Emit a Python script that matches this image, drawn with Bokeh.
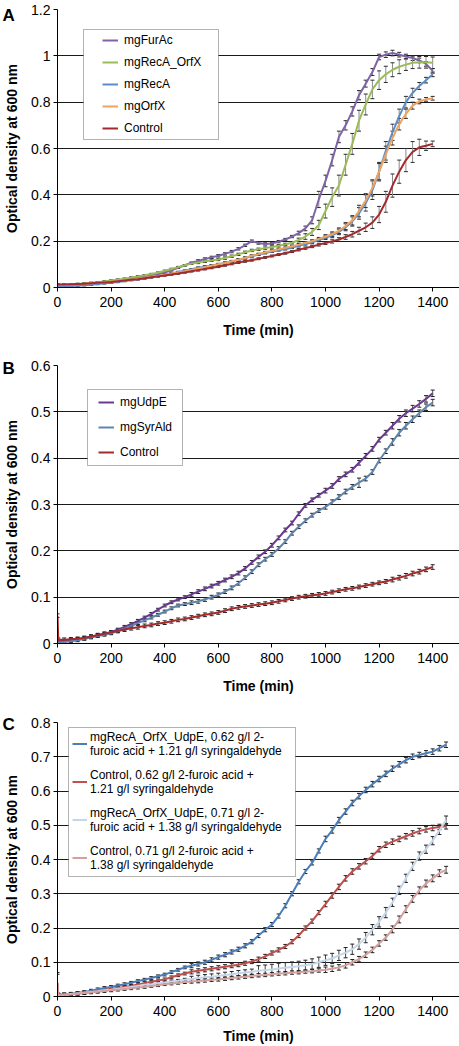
from bokeh.plotting import figure
from bokeh.models import (ColumnDataSource, Range1d, FixedTicker, Legend, LegendItem,
                          BoxAnnotation, NumeralTickFormatter, Title)
from bokeh.layouts import column
from bokeh.embed import file_html
from bokeh.resources import INLINE

FONT = "Liberation Sans"

# ---------------- shared axis data ----------------
x_ticks = [0, 200, 400, 600, 800, 1000, 1200, 1400]

# ---------------- Panel A ----------------
time_a = list(range(0, 1401, 25))
a_yticks = [0, 0.2, 0.4, 0.6, 0.8, 1, 1.2]
a_ylabels = ["0", "0.2", "0.4", "0.6", "0.8", "1", "1.2"]
a_names = ["mgFurAc", "mgRecA_OrfX", "mgRecA", "mgOrfX", "Control"]

a_furac = [0.010, 0.010, 0.011, 0.012, 0.014, 0.016, 0.019, 0.022, 0.025, 0.029,
           0.033, 0.038, 0.043, 0.048, 0.053, 0.058, 0.065, 0.074, 0.085, 0.096,
           0.107, 0.115, 0.123, 0.130, 0.137, 0.145, 0.155, 0.167, 0.182, 0.200,
           0.192, 0.188, 0.190, 0.198, 0.207, 0.220, 0.235, 0.255, 0.290, 0.380,
           0.460, 0.550, 0.650, 0.700, 0.760, 0.830, 0.880, 0.930, 0.995, 1.005,
           1.012, 1.005, 0.997, 0.990, 0.980, 0.965, 0.935]
a_recaorfx = [0.012, 0.012, 0.013, 0.015, 0.017, 0.020, 0.023, 0.026, 0.030, 0.034,
              0.038, 0.043, 0.048, 0.053, 0.058, 0.064, 0.072, 0.080, 0.088, 0.096,
              0.103, 0.108, 0.113, 0.117, 0.121, 0.127, 0.135, 0.143, 0.152, 0.160,
              0.165, 0.170, 0.175, 0.180, 0.186, 0.193, 0.205, 0.220, 0.240, 0.270,
              0.330, 0.390, 0.440, 0.530, 0.620, 0.720, 0.790, 0.855, 0.895, 0.920,
              0.940, 0.953, 0.962, 0.970, 0.972, 0.972, 0.970]
a_reca = [0.005, 0.005, 0.006, 0.008, 0.010, 0.012, 0.015, 0.018, 0.021, 0.024,
          0.028, 0.032, 0.036, 0.040, 0.045, 0.050, 0.055, 0.061, 0.067, 0.073,
          0.079, 0.085, 0.090, 0.095, 0.100, 0.106, 0.112, 0.119, 0.127, 0.135,
          0.142, 0.149, 0.155, 0.161, 0.166, 0.172, 0.180, 0.188, 0.195, 0.205,
          0.215, 0.225, 0.240, 0.260, 0.285, 0.320, 0.365, 0.420, 0.500, 0.590,
          0.670, 0.740, 0.800, 0.840, 0.870, 0.895, 0.920]
a_orfx = [0.012, 0.012, 0.013, 0.014, 0.016, 0.018, 0.020, 0.022, 0.025, 0.028,
          0.031, 0.034, 0.038, 0.042, 0.046, 0.050, 0.055, 0.060, 0.065, 0.070,
          0.076, 0.082, 0.088, 0.094, 0.100, 0.106, 0.113, 0.120, 0.128, 0.137,
          0.144, 0.152, 0.159, 0.165, 0.171, 0.178, 0.185, 0.193, 0.200, 0.210,
          0.220, 0.230, 0.245, 0.265, 0.290, 0.330, 0.375, 0.430, 0.500, 0.575,
          0.645, 0.705, 0.750, 0.785, 0.803, 0.812, 0.817]
a_control = [0.013, 0.013, 0.014, 0.015, 0.016, 0.018, 0.020, 0.022, 0.024, 0.027,
             0.030, 0.033, 0.036, 0.040, 0.044, 0.048, 0.052, 0.056, 0.060, 0.065,
             0.070, 0.075, 0.080, 0.085, 0.090, 0.096, 0.102, 0.108, 0.113, 0.118,
             0.124, 0.130, 0.136, 0.142, 0.148, 0.155, 0.163, 0.170, 0.177, 0.185,
             0.192, 0.199, 0.207, 0.218, 0.230, 0.245, 0.260, 0.280, 0.315, 0.370,
             0.440, 0.500, 0.550, 0.585, 0.605, 0.612, 0.620]

e_furac = [0.003, 0.003, 0.003, 0.003, 0.003, 0.003, 0.003, 0.003, 0.003, 0.003,
           0.003, 0.003, 0.003, 0.003, 0.003, 0.003, 0.003, 0.003, 0.003, 0.003,
           0.003, 0.005, 0.005, 0.005, 0.005, 0.005, 0.005, 0.005, 0.005, 0.005,
           0.005, 0.005, 0.005, 0.005, 0.005, 0.005, 0.008, 0.010, 0.015, 0.035,
           0.025, 0.025, 0.025, 0.020, 0.020, 0.020, 0.015, 0.015, 0.012, 0.012,
           0.012, 0.010, 0.010, 0.010, 0.010, 0.010, 0.010]
e_recaorfx = [0.003, 0.003, 0.003, 0.003, 0.003, 0.003, 0.003, 0.003, 0.003, 0.003,
              0.003, 0.003, 0.003, 0.003, 0.003, 0.003, 0.003, 0.003, 0.003, 0.003,
              0.003, 0.005, 0.005, 0.005, 0.005, 0.005, 0.005, 0.005, 0.005, 0.005,
              0.005, 0.005, 0.005, 0.005, 0.005, 0.005, 0.008, 0.012, 0.015, 0.020,
              0.030, 0.040, 0.045, 0.045, 0.045, 0.045, 0.045, 0.040, 0.040, 0.035,
              0.030, 0.030, 0.025, 0.025, 0.025, 0.025, 0.025]
e_reca = [0.003, 0.003, 0.003, 0.003, 0.003, 0.003, 0.003, 0.003, 0.003, 0.003,
          0.003, 0.003, 0.003, 0.003, 0.003, 0.003, 0.003, 0.003, 0.003, 0.003,
          0.003, 0.004, 0.004, 0.004, 0.004, 0.004, 0.004, 0.004, 0.004, 0.004,
          0.004, 0.004, 0.004, 0.004, 0.004, 0.004, 0.005, 0.005, 0.006, 0.006,
          0.008, 0.010, 0.012, 0.015, 0.020, 0.025, 0.035, 0.040, 0.040, 0.040,
          0.035, 0.030, 0.025, 0.020, 0.015, 0.012, 0.010]
e_orfx = [0.003, 0.003, 0.003, 0.003, 0.003, 0.003, 0.003, 0.003, 0.003, 0.003,
          0.003, 0.003, 0.003, 0.003, 0.003, 0.003, 0.003, 0.003, 0.003, 0.003,
          0.003, 0.004, 0.004, 0.004, 0.004, 0.004, 0.004, 0.004, 0.004, 0.004,
          0.004, 0.004, 0.004, 0.004, 0.004, 0.004, 0.005, 0.005, 0.006, 0.006,
          0.008, 0.010, 0.012, 0.015, 0.020, 0.025, 0.030, 0.035, 0.035, 0.035,
          0.030, 0.025, 0.020, 0.015, 0.010, 0.008, 0.008]
e_control = [0.003, 0.003, 0.003, 0.003, 0.003, 0.003, 0.003, 0.003, 0.003, 0.003,
             0.003, 0.003, 0.003, 0.003, 0.003, 0.003, 0.003, 0.003, 0.003, 0.003,
             0.003, 0.004, 0.004, 0.004, 0.004, 0.004, 0.004, 0.004, 0.004, 0.004,
             0.004, 0.004, 0.004, 0.004, 0.004, 0.004, 0.005, 0.005, 0.005, 0.006,
             0.006, 0.007, 0.008, 0.010, 0.012, 0.015, 0.018, 0.025, 0.035, 0.045,
             0.050, 0.050, 0.050, 0.045, 0.035, 0.020, 0.012]

# ---------------- Panel B ----------------
time_b = [0, 3] + list(range(25, 1401, 25))
b_yticks = [0, 0.1, 0.2, 0.3, 0.4, 0.5, 0.6]
b_ylabels = ["0", "0.1", "0.2", "0.3", "0.4", "0.5", "0.6"]
b_names = ["mgUdpE", "mgSyrAld", "Control"]

b_udpe = [0.005, 0.005, 0.006, 0.008, 0.010, 0.012, 0.015, 0.018, 0.021, 0.025, 0.030,
          0.036, 0.042, 0.049, 0.056, 0.064, 0.073, 0.082, 0.089, 0.095, 0.100,
          0.106, 0.112, 0.118, 0.124, 0.130, 0.137, 0.144, 0.152, 0.162, 0.175,
          0.187, 0.198, 0.212, 0.228, 0.245, 0.260, 0.280, 0.298, 0.310, 0.320,
          0.330, 0.340, 0.355, 0.365, 0.375, 0.390, 0.405, 0.420, 0.440, 0.455,
          0.470, 0.485, 0.497, 0.507, 0.517, 0.528, 0.540]
b_syrald = [0.002, 0.002, 0.003, 0.005, 0.007, 0.010, 0.013, 0.016, 0.019, 0.022, 0.027,
            0.032, 0.038, 0.044, 0.050, 0.056, 0.062, 0.069, 0.076, 0.082, 0.085,
            0.088, 0.091, 0.095, 0.100, 0.105, 0.112, 0.120, 0.130, 0.142, 0.155,
            0.170, 0.182, 0.192, 0.205, 0.220, 0.238, 0.252, 0.265, 0.277, 0.287,
            0.295, 0.305, 0.316, 0.328, 0.338, 0.347, 0.356, 0.370, 0.395, 0.415,
            0.435, 0.455, 0.470, 0.484, 0.497, 0.510, 0.520]
b_control = [0.060, 0.008, 0.008, 0.009, 0.010, 0.012, 0.015, 0.018, 0.021, 0.024, 0.027,
             0.030, 0.033, 0.035, 0.038, 0.040, 0.043, 0.045, 0.048, 0.051, 0.053,
             0.056, 0.059, 0.062, 0.064, 0.067, 0.071, 0.075, 0.078, 0.080, 0.082,
             0.084, 0.086, 0.088, 0.091, 0.094, 0.097, 0.100, 0.102, 0.104, 0.106,
             0.108, 0.111, 0.114, 0.117, 0.119, 0.122, 0.125, 0.128, 0.131, 0.134,
             0.138, 0.142, 0.146, 0.151, 0.155, 0.160, 0.165]

e_udpe = [0.003, 0.003, 0.003, 0.003, 0.003, 0.003, 0.003, 0.003, 0.003, 0.003, 0.003,
          0.003, 0.003, 0.003, 0.003, 0.003, 0.003, 0.003, 0.003, 0.003, 0.003,
          0.004, 0.004, 0.004, 0.004, 0.004, 0.004, 0.004, 0.004, 0.004, 0.004,
          0.004, 0.004, 0.004, 0.004, 0.004, 0.004, 0.004, 0.004, 0.004, 0.004,
          0.005, 0.005, 0.005, 0.005, 0.005, 0.005, 0.005, 0.005, 0.005, 0.005,
          0.007, 0.007, 0.007, 0.007, 0.007, 0.007, 0.007]
e_syrald = [0.003, 0.003, 0.003, 0.003, 0.003, 0.003, 0.003, 0.003, 0.003, 0.003, 0.003,
            0.003, 0.003, 0.003, 0.003, 0.003, 0.003, 0.003, 0.003, 0.003, 0.003,
            0.004, 0.004, 0.004, 0.004, 0.004, 0.004, 0.004, 0.004, 0.004, 0.004,
            0.004, 0.004, 0.004, 0.004, 0.004, 0.004, 0.004, 0.004, 0.004, 0.004,
            0.005, 0.005, 0.005, 0.005, 0.005, 0.010, 0.005, 0.005, 0.005, 0.005,
            0.007, 0.007, 0.007, 0.007, 0.007, 0.007, 0.007]
e_bcontrol = [0.004, 0.004, 0.004, 0.004, 0.004, 0.004, 0.004, 0.004, 0.004, 0.004, 0.004,
              0.004, 0.004, 0.004, 0.004, 0.004, 0.004, 0.004, 0.004, 0.004, 0.004,
              0.004, 0.004, 0.004, 0.004, 0.004, 0.004, 0.004, 0.004, 0.004, 0.004,
              0.004, 0.004, 0.004, 0.004, 0.004, 0.004, 0.004, 0.004, 0.004, 0.004,
              0.004, 0.004, 0.004, 0.004, 0.004, 0.004, 0.004, 0.004, 0.004, 0.004,
              0.005, 0.005, 0.005, 0.005, 0.005, 0.005, 0.005]

# ---------------- Panel C ----------------
time_c = [0, 3] + list(range(25, 1451, 25))
c_yticks = [0, 0.1, 0.2, 0.3, 0.4, 0.5, 0.6, 0.7, 0.8]
c_ylabels = ["0", "0.1", "0.2", "0.3", "0.4", "0.5", "0.6", "0.7", "0.8"]
c_names = ["mgRecA_OrfX_UdpE, 0.62 g/l 2-\nfuroic acid + 1.21 g/l syringaldehyde",
           "Control, 0.62 g/l 2-furoic acid +\n1.21 g/l syringaldehyde",
           "mgRecA_OrfX_UdpE, 0.71 g/l 2-\nfuroic acid + 1.38 g/l syringaldehyde",
           "Control, 0.71 g/l 2-furoic acid +\n1.38 g/l syringaldehyde"]

c_blue = [0.005, 0.005, 0.006, 0.008, 0.010, 0.013, 0.017, 0.021, 0.025, 0.028, 0.032,
          0.036, 0.040, 0.045, 0.049, 0.054, 0.059, 0.064, 0.071, 0.078, 0.085,
          0.090, 0.095, 0.100, 0.107, 0.115, 0.122, 0.130, 0.138, 0.148, 0.160,
          0.178, 0.195, 0.210, 0.235, 0.265, 0.300, 0.335, 0.365, 0.390, 0.425,
          0.460, 0.485, 0.515, 0.540, 0.565, 0.585, 0.603, 0.620, 0.635, 0.650,
          0.665, 0.678, 0.690, 0.700, 0.705, 0.710, 0.715, 0.725, 0.735]
c_red = [0.040, 0.005, 0.006, 0.007, 0.009, 0.011, 0.013, 0.016, 0.019, 0.022, 0.025,
         0.028, 0.031, 0.035, 0.039, 0.043, 0.047, 0.050, 0.056, 0.062, 0.067,
         0.072, 0.075, 0.078, 0.081, 0.084, 0.087, 0.090, 0.093, 0.097, 0.102,
         0.109, 0.117, 0.127, 0.136, 0.146, 0.160, 0.178, 0.200, 0.220, 0.245,
         0.270, 0.295, 0.320, 0.345, 0.365, 0.380, 0.395, 0.410, 0.430, 0.443,
         0.452, 0.460, 0.468, 0.476, 0.483, 0.488, 0.492, 0.495, 0.497]
c_lightblue = [0.005, 0.005, 0.005, 0.007, 0.009, 0.011, 0.013, 0.015, 0.018, 0.020, 0.023,
               0.025, 0.028, 0.031, 0.034, 0.036, 0.039, 0.041, 0.044, 0.046, 0.049,
               0.051, 0.054, 0.056, 0.058, 0.060, 0.063, 0.065, 0.068, 0.070, 0.072,
               0.075, 0.077, 0.079, 0.082, 0.084, 0.086, 0.088, 0.091, 0.095, 0.100,
               0.106, 0.111, 0.120, 0.128, 0.138, 0.153, 0.172, 0.195, 0.218, 0.245,
               0.275, 0.310, 0.345, 0.380, 0.410, 0.430, 0.455, 0.485, 0.515]
c_pink = [0.035, 0.004, 0.005, 0.006, 0.008, 0.010, 0.012, 0.014, 0.016, 0.018, 0.020,
          0.022, 0.024, 0.026, 0.028, 0.031, 0.033, 0.036, 0.038, 0.040, 0.042,
          0.044, 0.045, 0.047, 0.049, 0.050, 0.052, 0.054, 0.056, 0.058, 0.060,
          0.062, 0.063, 0.065, 0.067, 0.068, 0.070, 0.071, 0.073, 0.074, 0.076,
          0.078, 0.081, 0.085, 0.091, 0.100, 0.109, 0.122, 0.136, 0.155, 0.172,
          0.196, 0.225, 0.255, 0.285, 0.310, 0.330, 0.345, 0.360, 0.370]

e_cblue = [0.004, 0.004, 0.004, 0.004, 0.004, 0.004, 0.004, 0.004, 0.004, 0.004, 0.004,
           0.004, 0.004, 0.004, 0.004, 0.004, 0.004, 0.004, 0.004, 0.004, 0.004,
           0.006, 0.006, 0.006, 0.006, 0.006, 0.006, 0.006, 0.006, 0.006, 0.006,
           0.006, 0.006, 0.006, 0.006, 0.006, 0.006, 0.006, 0.006, 0.006, 0.006,
           0.008, 0.008, 0.008, 0.008, 0.008, 0.008, 0.008, 0.008, 0.008, 0.008,
           0.008, 0.008, 0.008, 0.008, 0.008, 0.008, 0.008, 0.008, 0.008]
e_cred = [0.030, 0.004, 0.004, 0.004, 0.004, 0.004, 0.004, 0.004, 0.004, 0.004, 0.004,
          0.004, 0.004, 0.004, 0.004, 0.004, 0.004, 0.004, 0.004, 0.004, 0.004,
          0.006, 0.006, 0.006, 0.006, 0.006, 0.006, 0.006, 0.006, 0.006, 0.006,
          0.006, 0.006, 0.006, 0.006, 0.006, 0.006, 0.006, 0.006, 0.006, 0.006,
          0.008, 0.008, 0.008, 0.008, 0.008, 0.008, 0.008, 0.008, 0.008, 0.008,
          0.008, 0.008, 0.008, 0.008, 0.008, 0.008, 0.008, 0.008, 0.008]
e_clight = [0.004, 0.004, 0.004, 0.004, 0.004, 0.004, 0.004, 0.004, 0.004, 0.004, 0.004,
            0.004, 0.004, 0.004, 0.004, 0.004, 0.004, 0.004, 0.004, 0.004, 0.004,
            0.008, 0.008, 0.008, 0.008, 0.008, 0.008, 0.008, 0.008, 0.008, 0.008,
            0.015, 0.015, 0.015, 0.015, 0.015, 0.015, 0.015, 0.015, 0.015, 0.015,
            0.015, 0.015, 0.015, 0.015, 0.015, 0.015, 0.015, 0.015, 0.015, 0.015,
            0.012, 0.012, 0.012, 0.012, 0.012, 0.012, 0.012, 0.012, 0.012]
e_cpink = [0.030, 0.004, 0.004, 0.004, 0.004, 0.004, 0.004, 0.004, 0.004, 0.004, 0.004,
           0.004, 0.004, 0.004, 0.004, 0.004, 0.004, 0.004, 0.004, 0.004, 0.004,
           0.005, 0.005, 0.005, 0.005, 0.005, 0.005, 0.005, 0.005, 0.005, 0.005,
           0.005, 0.005, 0.005, 0.005, 0.005, 0.005, 0.005, 0.005, 0.005, 0.005,
           0.008, 0.008, 0.008, 0.008, 0.008, 0.008, 0.008, 0.008, 0.008, 0.008,
           0.010, 0.010, 0.010, 0.010, 0.010, 0.010, 0.010, 0.010, 0.010]


def make_fig(height, top, bottom, ymax, yticks, ylabels, title_standoff):
    p = figure(width=459, height=height, x_range=Range1d(0, 1500), y_range=Range1d(0, ymax),
               output_backend="svg", toolbar_location=None,
               min_border_left=57, min_border_right=0,
               min_border_top=top, min_border_bottom=bottom)
    p.outline_line_color = None
    p.background_fill_color = "white"
    p.border_fill_color = "white"
    p.xgrid.visible = False
    p.ygrid.ticker = FixedTicker(ticks=yticks)
    p.ygrid.grid_line_color = "#1a1a1a"
    p.ygrid.grid_line_width = 1
    p.xaxis.ticker = FixedTicker(ticks=x_ticks)
    p.yaxis.ticker = FixedTicker(ticks=yticks)
    p.yaxis.formatter = NumeralTickFormatter(format="0.[0]")
    p.yaxis.major_label_overrides = {t: l for t, l in zip(yticks, ylabels)}
    for ax in (p.xaxis, p.yaxis):
        ax.axis_line_color = "black"
        ax.axis_line_width = 1
        ax.major_tick_line_color = "black"
        ax.major_tick_out = 4
        ax.major_tick_in = 0
        ax.minor_tick_line_color = None
        ax.major_label_text_font = FONT
        ax.major_label_text_font_size = "14px"
        ax.major_label_text_color = "black"
        ax.axis_label_text_font = FONT
        ax.axis_label_text_font_size = "14px"
        ax.axis_label_text_font_style = "bold"
        ax.axis_label_text_color = "black"
    p.xaxis.axis_label = "Time (min)"
    p.yaxis.axis_label = "Optical density at 600 nm"
    p.yaxis.major_label_standoff = 3
    p.yaxis.axis_label_standoff = 8
    p.xaxis.major_label_standoff = 5
    p.xaxis.axis_label_standoff = title_standoff
    return p


def add_series(p, t, vals, errs, err_color, cap_color):
    lo = [v - e for v, e in zip(vals, errs)]
    hi = [v + e for v, e in zip(vals, errs)]
    src = ColumnDataSource(dict(t=t, v=vals, lo=lo, hi=hi))
    p.segment(x0="t", y0="lo", x1="t", y1="hi", source=src, line_color=err_color, line_width=1)
    p.scatter(x="t", y="hi", source=src, marker="dash", size=4, line_color=cap_color, line_width=1)
    p.scatter(x="t", y="lo", source=src, marker="dash", size=4, line_color=cap_color, line_width=1)
    return src


def add_legend(p, renderers, names, loc, box, glyph_w, label_h, spacing, standoff):
    p.add_layout(BoxAnnotation(left=box[0], right=box[1], bottom=box[2], top=box[3],
                               left_units="screen", right_units="screen",
                               bottom_units="screen", top_units="screen",
                               fill_color="white", fill_alpha=1,
                               line_color="black", line_width=1))
    items = [LegendItem(label=n, renderers=[r]) for n, r in zip(names, renderers)]
    leg = Legend(items=items, location=loc, padding=0, margin=0,
                 border_line_color=None, background_fill_alpha=0,
                 label_text_font=FONT, label_text_font_size="12px", label_text_color="black",
                 glyph_width=glyph_w, glyph_height=label_h, label_height=label_h,
                 spacing=spacing, label_standoff=standoff)
    p.add_layout(leg)


def add_letter(p, letter, standoff):
    p.add_layout(Title(text=letter, align="left", offset=-55, standoff=standoff,
                       text_font=FONT, text_font_style="bold", text_font_size="17px",
                       text_color="black"), "above")


# ---- Panel A figure ----
pa = make_fig(341, 9, 54, 1.2, a_yticks, a_ylabels, 12)
a_series = [(a_furac, e_furac, "#7F63A8"), (a_recaorfx, e_recaorfx, "#9BBB59"),
            (a_reca, e_reca, "#5B8CC8"), (a_orfx, e_orfx, "#F0A35E"),
            (a_control, e_control, "#A32A2E")]
srcs = [add_series(pa, time_a, v, e, "#8a8a8a", "#2a2a2a") for v, e, c in a_series]
ra = [pa.line("t", "v", source=s, line_color=c, line_width=2) for s, (v, e, c) in zip(srcs, a_series)]
add_legend(pa, ra, a_names, (45, 150), (26, 161, 148, 258), 16, 18, 4, 6)
add_letter(pa, "A", -31)

# ---- Panel B figure ----
pb = make_fig(356, 24, 54, 0.6, b_yticks, b_ylabels, 12)
b_series = [(b_udpe, e_udpe, "#6A3A93"), (b_syrald, e_syrald, "#5F84AE"),
            (b_control, e_bcontrol, "#A52A2A")]
srcs = [add_series(pb, time_b, v, e, "#555555", "#222222") for v, e, c in b_series]
rb = [pb.line("t", "v", source=s, line_color=c, line_width=2) for s, (v, e, c) in zip(srcs, b_series)]
add_legend(pb, rb, b_names, (41, 181), (30, 125, 178, 254), 16, 20, 5, 6)
add_letter(pb, "B", -24)

# ---- Panel C figure ----
pc = make_fig(349, 25, 48, 0.8, c_yticks, c_ylabels, 9)
c_series = [(c_blue, e_cblue, "#4A7EBB"), (c_red, e_cred, "#C0504D"),
            (c_lightblue, e_clight, "#C5D5EA"), (c_pink, e_cpink, "#D4A09E")]
srcs = [add_series(pc, time_c, v, e, "#444444", "#222222") for v, e, c in c_series]
rc = [pc.line("t", "v", source=s, line_color=c, line_width=2) for s, (v, e, c) in zip(srcs, c_series)]
add_legend(pc, rc, c_names, (15, 124), (11, 238, 120, 269), 15, 29, 9, 3)
add_letter(pc, "C", -22)

layout = column(pa, pb, pc, spacing=0)
open("out.html", "w").write(file_html(layout, INLINE))
